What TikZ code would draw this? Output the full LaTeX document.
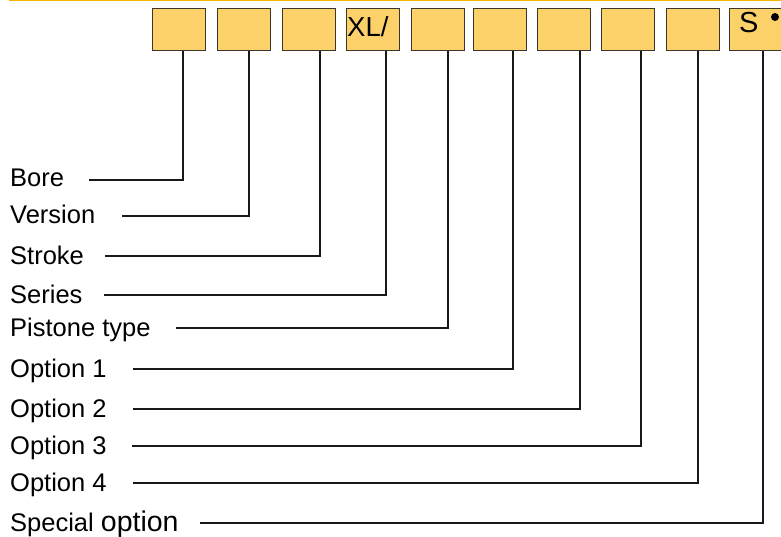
\documentclass[tikz,border=0pt]{standalone}
\usepackage{fontspec}
\setmainfont{Liberation Sans}
\begin{document}
\begin{tikzpicture}[x=1pt,y=-1pt,
  codebox/.style={draw={rgb,255:red,60;green,55;blue,45}, line width=0.9pt, fill={rgb,255:red,253;green,209;blue,106}, minimum width=53pt, minimum height=42pt, inner sep=0pt, anchor=north west},
  lbl/.style={anchor=base west, inner sep=0pt, font=\fontsize{25.5}{28}\selectfont},
  conn/.style={line width=2.1pt, draw={rgb,255:red,25;green,25;blue,25}}]
\useasboundingbox (0,0) rectangle (781,537);
\clip (0,0) rectangle (781,537);
\draw[line width=2pt, draw={rgb,255:red,245;green,180;blue,0}] (9,0.5) -- (781,0.5);
\node[codebox] (b1) at (152,8) {};
\node[codebox] (b2) at (217,8) {};
\node[codebox] (b3) at (282,8) {};
\node[codebox] (b4) at (346,8) {};
\node[codebox] (b5) at (411,8) {};
\node[codebox] (b6) at (473,8) {};
\node[codebox] (b7) at (537,8) {};
\node[codebox] (b8) at (601,8) {};
\node[codebox] (b9) at (666,8) {};
\node[codebox] (b10) at (729,8) {};
\node[anchor=base west, inner sep=0pt, font=\fontsize{27.5}{30}\selectfont] (xl) at (347,37) {XL/};
\node[anchor=base west, inner sep=0pt, font=\fontsize{29}{30}\selectfont] (s) at (739,33) {S};
\fill (775,17) circle (4pt);
\node[lbl] (l1) at (10,187) {Bore};
\node[lbl] (l2) at (10,224) {Version};
\node[lbl] (l3) at (10,264) {Stroke};
\node[lbl] (l4) at (10,303) {Series};
\node[lbl] (l5) at (10,336) {Pistone type};
\node[lbl] (l6) at (10,377) {Option 1};
\node[lbl] (l7) at (10,417) {Option 2};
\node[lbl] (l8) at (10,454) {Option 3};
\node[lbl] (l9) at (10,491) {Option 4};
\node[lbl] (l10) at (10,531) {Special {\fontsize{28.5}{30}\selectfont option}};
\coordinate (c1) at (89,180);
\coordinate (c2) at (122,216);
\coordinate (c3) at (105,256);
\coordinate (c4) at (104,295);
\coordinate (c5) at (176,328);
\coordinate (c6) at (133,369);
\coordinate (c7) at (133,409);
\coordinate (c8) at (132,446);
\coordinate (c9) at (133,483);
\coordinate (c10) at (200,523);
\draw[conn] (b1.south -| 183,0) |- (c1);
\draw[conn] (b2.south -| 249,0) |- (c2);
\draw[conn] (b3.south -| 320,0) |- (c3);
\draw[conn] (b4.south -| 386,0) |- (c4);
\draw[conn] (b5.south -| 448,0) |- (c5);
\draw[conn] (b6.south -| 513,0) |- (c6);
\draw[conn] (b7.south -| 580,0) |- (c7);
\draw[conn] (b8.south -| 641,0) |- (c8);
\draw[conn] (b9.south -| 698,0) |- (c9);
\draw[conn] (b10.south -| 763,0) |- (c10);
\end{tikzpicture}
\end{document}
